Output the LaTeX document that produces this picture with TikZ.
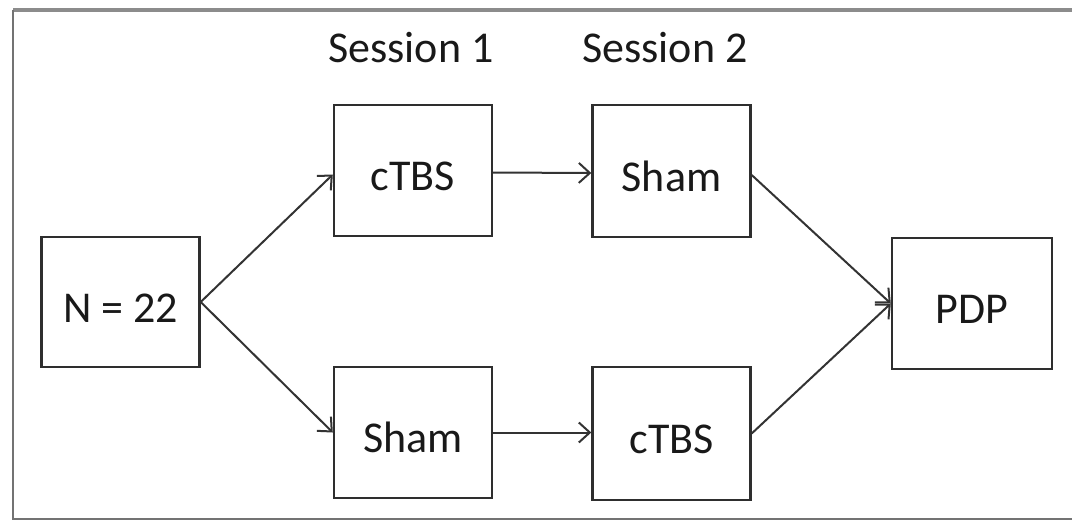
\documentclass[tikz,border=0pt]{standalone}
\usepackage{fontspec}
\setmainfont{Carlito}
\usetikzlibrary{arrows.meta}
\begin{document}
\begin{tikzpicture}[x=1pt,y=-1pt,
  box/.style={draw=black!82,line width=2.4pt,minimum width=#1,inner sep=0pt,font=\fontsize{44}{52}\selectfont,text=black!90,text height=40pt,text depth=0pt},
  box/.default=158pt,
  conn/.style={draw=black!80,line width=2pt,-{Straight Barb[length=11pt,width=20pt,line width=2pt]}},
  lbl/.style={font=\fontsize{44}{52}\selectfont,text=black!90,inner sep=0pt}]
\useasboundingbox (0,0) rectangle (1072,522);
\draw[black!45,line width=4pt] (13,10) -- (1072,10);
\draw[black!55,line width=2pt] (13,10) -- (13,519) -- (1072,519);
\node[box, minimum height=130pt] (n) at (120.5,302) {N = 22};
\node[box, minimum height=131pt] (c1) at (413,170.5) {cTBS};
\node[box, minimum height=132pt] (s2) at (671.5,171) {Sham};
\node[box, minimum height=131pt] (s1) at (413,432.5) {Sham};
\node[box, minimum height=133pt] (c2) at (671.5,433.5) {cTBS};
\node[box, minimum height=131pt, minimum width=160pt] (p) at (972,303.5) {PDP};
\node[lbl] (l1) at (411,48) {Session 1};
\node[lbl] (l2) at (665,48) {Session 2};
\draw[conn] (n.east) -- ([yshift=-4pt]c1.west);
\draw[conn] (n.east) -- (s1.west);
\draw[conn] ([yshift=-2pt]c1.east) -- ([yshift=-2pt]s2.west);
\draw[conn] (s1.east) -- (s2.west |- s1.east);
\draw[conn] ([yshift=-4pt]s2.east) -- (p.west);
\draw[conn] (c2.east) -- (p.west);
\end{tikzpicture}
\end{document}
